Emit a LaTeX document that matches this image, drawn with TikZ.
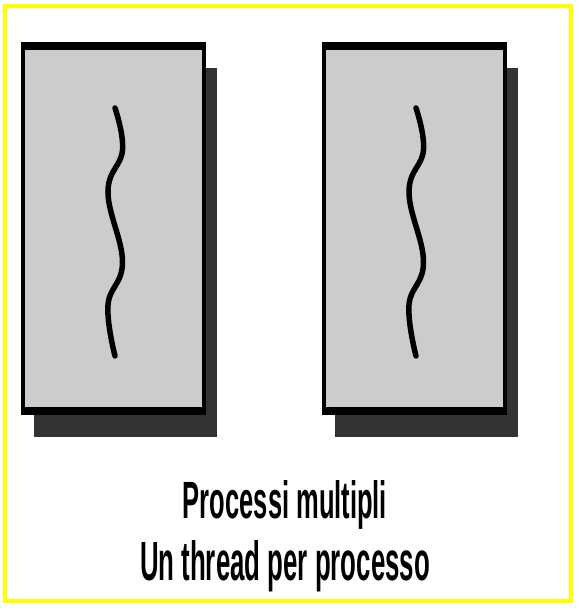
\documentclass[tikz,border=0pt]{standalone}
\usepackage{fontspec}
\setmainfont{Liberation Sans}
\usepackage{graphicx}
\definecolor{boxgrey}{HTML}{CCCCCC}
\definecolor{shadowgrey}{HTML}{333333}
\definecolor{frameyellow}{HTML}{FFFF00}
\tikzset{
  framestyle/.style={draw=frameyellow, line width=4pt},
  shadowbox/.style={fill=shadowgrey},
  outerbox/.style={fill=black},
  innerbox/.style={fill=boxgrey},
  threadline/.style={draw=black, line width=5.5pt, line cap=round},
  caption/.style={inner sep=0pt, anchor=base, font=\bfseries}
}
\begin{document}
\begin{tikzpicture}[x=1pt, y=-1pt]
\useasboundingbox (0,0) rectangle (578,613);
\fill[white] (0,0) rectangle (578,613);
% frame
\draw[framestyle] (4.5,5.5) rectangle (571,601);
% process boxes
\foreach \dx/\nm in {0/a, 301/b} {
  \begin{scope}[xshift=\dx pt]
    \fill[shadowbox] (34,68) rectangle (217,437);
    \fill[outerbox] (21,42) rectangle (206,415);
    \fill[innerbox] (25,50) rectangle (202,407);
    \draw[threadline] plot[smooth, tension=0.7] coordinates
      {(115,108) (122.5,150) (108,192) (122.5,262) (108,305) (115,356)};
    \coordinate (box\nm) at (113.5,228.5);
  \end{scope}
}
% captions
\node[caption] (cap1) at (285,518) {\resizebox{204pt}{38pt}{Processi multipli}};
\node[caption] (cap2) at (285,580) {\resizebox{290pt}{40pt}{Un thread per processo}};
\end{tikzpicture}
\end{document}
